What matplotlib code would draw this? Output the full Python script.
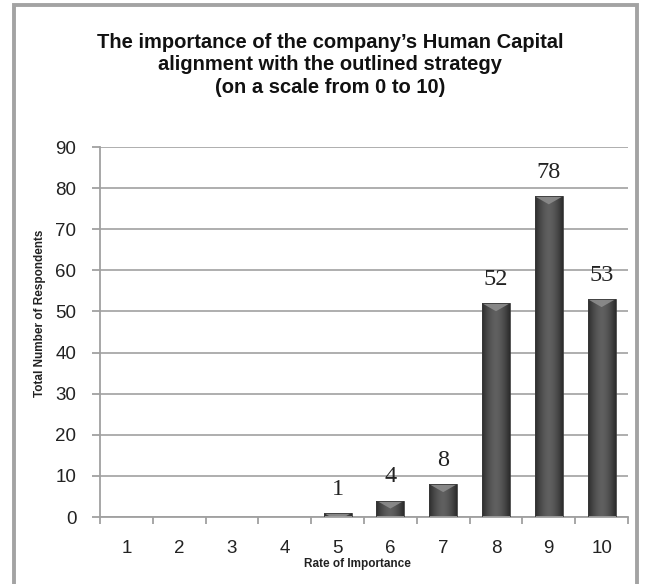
import numpy as np
import matplotlib
matplotlib.use("Agg")
import matplotlib.pyplot as plt
from matplotlib.patches import Rectangle, Polygon

# data
rates = [1, 2, 3, 4, 5, 6, 7, 8, 9, 10]
respondents = [0, 0, 0, 0, 1, 4, 8, 52, 78, 53]
y_ticks = [0, 10, 20, 30, 40, 50, 60, 70, 80, 90]

title_lines = ["The importance of the company\u2019s Human Capital",
               "alignment with the outlined strategy",
               "(on a scale from 0 to 10)"]

plt.rcParams["font.family"] = ["Liberation Sans", "DejaVu Sans"]

W, H = 651, 584
fig = plt.figure(figsize=(W / 100, H / 100), dpi=100)

# grey frame round the chart area (bottom edge runs off the picture)
fig.patches.append(Rectangle((14 / W, -0.05), (637 - 14) / W, 1.05 - 5 / H,
                             transform=fig.transFigure, fill=False,
                             edgecolor="#a3a3a3", lw=2.8))

ax = fig.add_axes([100 / W, 1 - 517 / H, 528 / W, 370 / H])

for s in ("top", "right"):
    ax.spines[s].set_visible(False)
for s in ("left", "bottom"):
    ax.spines[s].set_color("#a0a0a0")
    ax.spines[s].set_linewidth(1.3)

ax.set_yticks(y_ticks)
ax.yaxis.grid(True, color="#a8a8a8", lw=1.3)
ax.set_axisbelow(True)
ax.tick_params(axis="y", length=6, width=1.3, color="#a0a0a0",
               pad=11, labelsize=13.5, labelcolor="#222222")

ax.set_xticks(rates)
ax.set_xticklabels([str(r) for r in rates])
ax.set_xticks(np.arange(0.5, 11, 1), minor=True)
ax.tick_params(axis="x", which="major", length=0, pad=16.5,
               labelsize=13.5, labelcolor="#222222")
ax.tick_params(axis="x", which="minor", length=5, width=1.3, color="#a0a0a0")

# bars with a shaded cylinder look and a lighter bevel on top
bw = 0.53
grad = np.abs(np.linspace(-1, 1, 64)) ** 1.6
grad = np.vstack([grad, grad])
cmap = matplotlib.colors.LinearSegmentedColormap.from_list(
    "bar", ["#606060", "#2c2c2c"])
px_per_unit = 370 / 90
for x, v in zip(rates, respondents):
    if v <= 0:
        continue
    rect = Rectangle((x - bw / 2, 0), bw, v, facecolor="none",
                     edgecolor="#3a3a3a", lw=0.6, zorder=3)
    ax.add_patch(rect)
    im = ax.imshow(grad, cmap=cmap, aspect="auto", zorder=2,
                   extent=[x - bw / 2, x + bw / 2, 0, v])
    im.set_clip_path(rect)
    depth = 8 / px_per_unit
    tri = Polygon([(x - bw / 2, v), (x + bw / 2, v), (x, v - depth)],
                  closed=True, facecolor="#8c8c8c", edgecolor="none",
                  zorder=2.5, alpha=0.9)
    ax.add_patch(tri)
    tri.set_clip_path(rect)
    ax.annotate(str(v), (x, v), xytext=(0, 17), textcoords="offset points",
                ha="center", va="center", fontsize=17.5,
                family="Liberation Serif", color="#222222", zorder=4)

ax.set_xlim(0.5, 10.5)
ax.set_ylim(0, 90)

for line, base in zip(title_lines, [48, 70.5, 93]):
    fig.text(330 / W, 1 - base / H, line, ha="center", va="baseline",
             fontsize=14.5, fontweight="bold", color="#111111")
fig.text(40 / W, 1 - 313 / H, "Total Number of Respondents", rotation=90,
         ha="center", va="center", fontsize=8.5, fontweight="bold",
         color="#222222")
fig.text(357 / W, 1 - 564 / H, "Rate of Importance", ha="center",
         va="center", fontsize=8.5, fontweight="bold", color="#222222")

fig.savefig("out.png", dpi=100)
